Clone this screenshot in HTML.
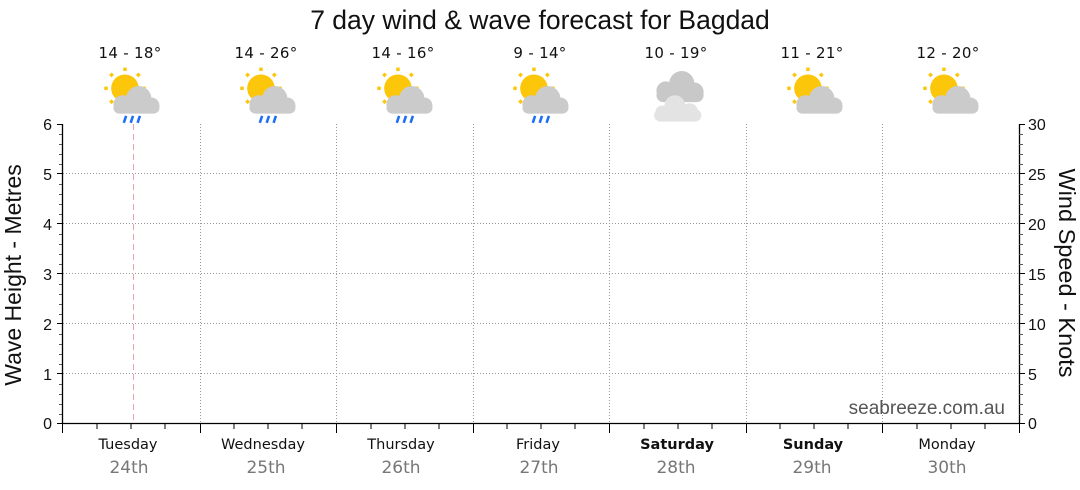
<!DOCTYPE html>
<html><head><meta charset="utf-8"><style>
html,body{margin:0;padding:0;background:#fff;}
svg{display:block;font-family:"Liberation Sans",sans-serif;}
</style></head><body>
<svg width="1080" height="490" viewBox="0 0 1080 490" xmlns="http://www.w3.org/2000/svg">
<defs>
<g id="sun">
  <circle cx="-7" cy="22" r="12" fill="#fcc60a"/>
  <g stroke="#fcc60a" stroke-width="3">
    <line x1="-7" y1="4" x2="-7" y2="7"/>
    <line x1="-19.7" y1="9.3" x2="-17.6" y2="11.4"/>
    <line x1="5.7" y1="9.3" x2="3.6" y2="11.4"/>
    <line x1="-25" y1="22" x2="-22" y2="22"/>
    <line x1="-19.7" y1="34.7" x2="-17.6" y2="32.6"/>
    <line x1="11" y1="22" x2="8" y2="22" />
  </g>
</g>
<g id="cloud">
  <circle cx="5" cy="31" r="11" fill="#cbcbcb"/>
  <circle cx="-9" cy="36" r="8" fill="#cbcbcb"/>
  <circle cx="16" cy="37" r="7" fill="#cbcbcb"/>
  <rect x="-17" y="34" width="40" height="10" rx="5" fill="#cbcbcb"/>
</g>
<g id="rain" stroke="#1a6ef5" stroke-width="2.2">
  <line x1="-6" y1="46" x2="-8" y2="52"/>
  <line x1="0" y1="46" x2="-2" y2="52"/>
  <line x1="6" y1="46" x2="4" y2="52"/>
</g>
<g id="rainicon"><use href="#sun"/><use href="#cloud"/><use href="#rain"/></g>
<g id="pcicon"><use href="#sun"/><use href="#cloud"/></g>
<g id="ovicon">
  <circle cx="5" cy="18" r="11" fill="#c8c8c8"/>
  <circle cx="-9" cy="24" r="8" fill="#c8c8c8"/>
  <circle cx="16" cy="25" r="8" fill="#c8c8c8"/>
  <rect x="-17" y="22" width="41" height="12" rx="6" fill="#c8c8c8"/>
  <circle cx="-1" cy="37" r="9" fill="#e3e3e3"/>
  <circle cx="-12" cy="43" r="6" fill="#e3e3e3"/>
  <circle cx="12" cy="42" r="7" fill="#e3e3e3"/>
  <rect x="-19" y="40" width="41" height="11" rx="5.5" fill="#e3e3e3"/>
</g>
</defs>

<text x="540" y="29" font-size="26.5" text-anchor="middle" fill="#111">7 day wind &amp; wave forecast for Bagdad</text>

<g font-size="15" text-anchor="middle" fill="#111" font-family="DejaVu Sans, sans-serif" letter-spacing="0.3">
<text x="130" y="58">14 - 18°</text>
<text x="266" y="58">14 - 26°</text>
<text x="403" y="58">14 - 16°</text>
<text x="540" y="58">9 - 14°</text>
<text x="676" y="58">10 - 19°</text>
<text x="812" y="58">11 - 21°</text>
<text x="948" y="58">12 - 20°</text>
</g>

<use href="#rainicon" transform="translate(133,63) scale(1.15)"/>
<use href="#rainicon" transform="translate(269,63) scale(1.15)"/>
<use href="#rainicon" transform="translate(406,63) scale(1.15)"/>
<use href="#rainicon" transform="translate(542,63) scale(1.15)"/>
<use href="#ovicon" transform="translate(676,63) scale(1.15)"/>
<use href="#pcicon" transform="translate(816,63) scale(1.15)"/>
<use href="#pcicon" transform="translate(952,63) scale(1.15)"/>

<g stroke="#999" stroke-width="1" stroke-dasharray="1,2">
<line x1="63" y1="373.5" x2="1019" y2="373.5"/>
<line x1="63" y1="323.5" x2="1019" y2="323.5"/>
<line x1="63" y1="273.5" x2="1019" y2="273.5"/>
<line x1="63" y1="223.5" x2="1019" y2="223.5"/>
<line x1="63" y1="173.5" x2="1019" y2="173.5"/>
<line x1="200.5" y1="124" x2="200.5" y2="423"/>
<line x1="336.5" y1="124" x2="336.5" y2="423"/>
<line x1="473.5" y1="124" x2="473.5" y2="423"/>
<line x1="609.5" y1="124" x2="609.5" y2="423"/>
<line x1="746.5" y1="124" x2="746.5" y2="423"/>
<line x1="882.5" y1="124" x2="882.5" y2="423"/>
</g>
<line x1="133.5" y1="124" x2="133.5" y2="423" stroke="#f0a0aa" stroke-width="1" stroke-dasharray="6,4"/>

<g stroke="#000" stroke-width="1.3">
<line x1="62.5" y1="124" x2="62.5" y2="424"/>
<line x1="1019.5" y1="124" x2="1019.5" y2="424"/>
<line x1="62" y1="423.5" x2="1020" y2="423.5"/>
</g>
<g stroke="#000" stroke-width="1">
<path d="M57 124.5H62M57 173.5H62M57 223.5H62M57 273.5H62M57 323.5H62M57 373.5H62M57 423.5H62"/>
<path d="M1019 124.5H1025M1019 173.5H1025M1019 223.5H1025M1019 273.5H1025M1019 323.5H1025M1019 373.5H1025M1019 423.5H1025"/>
</g>
<g stroke="#555" stroke-width="1">
<path d="M59 134.5H62M59 144.5H62M59 154.5H62M59 164.5H62M59 184.5H62M59 194.5H62M59 204.5H62M59 214.5H62M59 234.5H62M59 244.5H62M59 254.5H62M59 264.5H62M59 284.5H62M59 294.5H62M59 304.5H62M59 314.5H62M59 334.5H62M59 344.5H62M59 354.5H62M59 364.5H62M59 384.5H62M59 394.5H62M59 404.5H62M59 414.5H62"/>
<path d="M1019 134.5H1023M1019 144.5H1023M1019 154.5H1023M1019 164.5H1023M1019 184.5H1023M1019 194.5H1023M1019 204.5H1023M1019 214.5H1023M1019 234.5H1023M1019 244.5H1023M1019 254.5H1023M1019 264.5H1023M1019 284.5H1023M1019 294.5H1023M1019 304.5H1023M1019 314.5H1023M1019 334.5H1023M1019 344.5H1023M1019 354.5H1023M1019 364.5H1023M1019 384.5H1023M1019 394.5H1023M1019 404.5H1023M1019 414.5H1023"/>
</g>
<g stroke="#000" stroke-width="1">
<path d="M62.5 423V433M200.5 423V433M336.5 423V433M473.5 423V433M609.5 423V433M746.5 423V433M882.5 423V433M1019.5 423V433"/>
<path d="M97 423V429M131 423V429M165 423V429M234 423V429M268 423V429M302 423V429M371 423V429M405 423V429M439 423V429M507 423V429M541 423V429M575 423V429M644 423V429M678 423V429M712 423V429M780 423V429M814 423V429M848 423V429M917 423V429M951 423V429M985 423V429"/>
</g>

<g font-size="16" fill="#111" text-anchor="end">
<text x="52" y="130">6</text><text x="52" y="180">5</text><text x="52" y="230">4</text>
<text x="52" y="280">3</text><text x="52" y="330">2</text><text x="52" y="380">1</text><text x="52" y="429">0</text>
</g>
<g font-size="16" fill="#111" text-anchor="start">
<text x="1028" y="130">30</text><text x="1028" y="180">25</text><text x="1028" y="230">20</text>
<text x="1028" y="280">15</text><text x="1028" y="330">10</text><text x="1028" y="380">5</text><text x="1028" y="429">0</text>
</g>

<text transform="translate(21,275) rotate(-90)" font-size="23" text-anchor="middle" fill="#111">Wave Height - Metres</text>
<text transform="translate(1059,273) rotate(90)" font-size="23.5" text-anchor="middle" fill="#111">Wind Speed - Knots</text>

<text x="1005" y="414" font-size="19" text-anchor="end" fill="#555">seabreeze.com.au</text>

<g font-size="14.5" text-anchor="middle" fill="#111" font-family="DejaVu Sans, sans-serif">
<text x="128" y="449">Tuesday</text>
<text x="263" y="449">Wednesday</text>
<text x="401" y="449">Thursday</text>
<text x="538" y="449">Friday</text>
<text x="677" y="449" font-weight="bold">Saturday</text>
<text x="813" y="449" font-weight="bold">Sunday</text>
<text x="947" y="449">Monday</text>
</g>
<g font-size="17" text-anchor="middle" fill="#777" font-family="DejaVu Sans, sans-serif">
<text x="129" y="473">24th</text>
<text x="266" y="473">25th</text>
<text x="401" y="473">26th</text>
<text x="539" y="473">27th</text>
<text x="676" y="473">28th</text>
<text x="812" y="473">29th</text>
<text x="947" y="473">30th</text>
</g>
</svg>
</body></html>
